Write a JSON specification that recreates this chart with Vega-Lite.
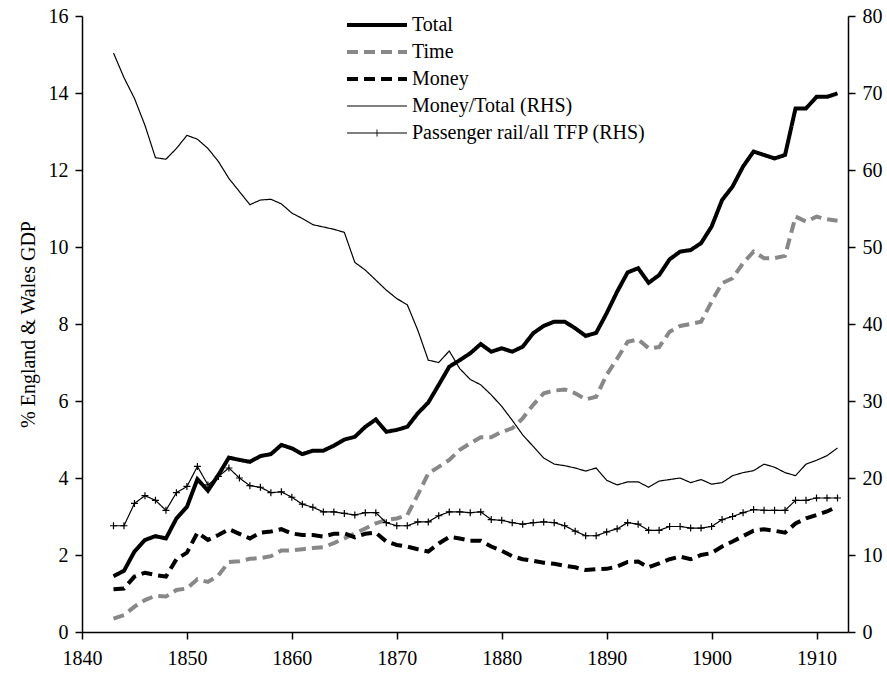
{
  "$schema": "https://vega.github.io/schema/vega-lite/v6.json",
  "width": 766,
  "height": 616,
  "autosize": "none",
  "padding": {"left": 82, "top": 16, "right": 39, "bottom": 43},
  "background": "white",
  "config": {
    "view": {"stroke": null},
    "font": "Liberation Serif",
    "axis": {
      "domainColor": "black", "tickColor": "black", "labelColor": "black", "titleColor": "black",
      "labelFont": "Liberation Serif", "titleFont": "Liberation Serif",
      "labelFontSize": 20, "titleFontSize": 20, "titleFontWeight": "normal",
      "grid": false, "tickSize": 7, "domainWidth": 1.5, "tickWidth": 1.5,
      "labelFlush": false, "labelOverlap": false
    }
  },
  "data": {"values": [
    {"year": 1843, "total": 1.45, "time": 0.35, "money": 1.11, "money_total": 75.2, "rail_tfp": 13.8},
    {"year": 1844, "total": 1.59, "time": 0.44, "money": 1.13, "money_total": 72.0, "rail_tfp": 13.8},
    {"year": 1845, "total": 2.09, "time": 0.66, "money": 1.44, "money_total": 69.3, "rail_tfp": 16.7},
    {"year": 1846, "total": 2.39, "time": 0.83, "money": 1.54, "money_total": 65.8, "rail_tfp": 17.7},
    {"year": 1847, "total": 2.49, "time": 0.94, "money": 1.48, "money_total": 61.6, "rail_tfp": 17.1},
    {"year": 1848, "total": 2.43, "time": 0.92, "money": 1.44, "money_total": 61.4, "rail_tfp": 15.8},
    {"year": 1849, "total": 2.95, "time": 1.09, "money": 1.89, "money_total": 62.8, "rail_tfp": 18.1},
    {"year": 1850, "total": 3.25, "time": 1.13, "money": 2.06, "money_total": 64.5, "rail_tfp": 18.9},
    {"year": 1851, "total": 3.97, "time": 1.37, "money": 2.58, "money_total": 64.0, "rail_tfp": 21.5},
    {"year": 1852, "total": 3.67, "time": 1.30, "money": 2.39, "money_total": 62.8, "rail_tfp": 19.1},
    {"year": 1853, "total": 4.08, "time": 1.47, "money": 2.52, "money_total": 61.1, "rail_tfp": 20.2},
    {"year": 1854, "total": 4.53, "time": 1.82, "money": 2.67, "money_total": 58.9, "rail_tfp": 21.3},
    {"year": 1855, "total": 4.47, "time": 1.84, "money": 2.55, "money_total": 57.2, "rail_tfp": 20.0},
    {"year": 1856, "total": 4.42, "time": 1.90, "money": 2.43, "money_total": 55.5, "rail_tfp": 19.0},
    {"year": 1857, "total": 4.57, "time": 1.92, "money": 2.58, "money_total": 56.1, "rail_tfp": 18.8},
    {"year": 1858, "total": 4.62, "time": 1.97, "money": 2.61, "money_total": 56.2, "rail_tfp": 18.1},
    {"year": 1859, "total": 4.86, "time": 2.12, "money": 2.67, "money_total": 55.6, "rail_tfp": 18.2},
    {"year": 1860, "total": 4.77, "time": 2.12, "money": 2.56, "money_total": 54.4, "rail_tfp": 17.5},
    {"year": 1861, "total": 4.62, "time": 2.15, "money": 2.52, "money_total": 53.7, "rail_tfp": 16.6},
    {"year": 1862, "total": 4.71, "time": 2.18, "money": 2.52, "money_total": 52.9, "rail_tfp": 16.2},
    {"year": 1863, "total": 4.71, "time": 2.20, "money": 2.48, "money_total": 52.6, "rail_tfp": 15.6},
    {"year": 1864, "total": 4.84, "time": 2.31, "money": 2.55, "money_total": 52.3, "rail_tfp": 15.6},
    {"year": 1865, "total": 5.00, "time": 2.43, "money": 2.56, "money_total": 51.9, "rail_tfp": 15.4},
    {"year": 1866, "total": 5.07, "time": 2.56, "money": 2.46, "money_total": 48.0, "rail_tfp": 15.2},
    {"year": 1867, "total": 5.33, "time": 2.69, "money": 2.55, "money_total": 47.0, "rail_tfp": 15.5},
    {"year": 1868, "total": 5.52, "time": 2.82, "money": 2.58, "money_total": 45.7, "rail_tfp": 15.5},
    {"year": 1869, "total": 5.20, "time": 2.91, "money": 2.35, "money_total": 44.4, "rail_tfp": 14.2},
    {"year": 1870, "total": 5.25, "time": 2.95, "money": 2.26, "money_total": 43.3, "rail_tfp": 13.8},
    {"year": 1871, "total": 5.33, "time": 3.04, "money": 2.22, "money_total": 42.5, "rail_tfp": 13.8},
    {"year": 1872, "total": 5.68, "time": 3.56, "money": 2.15, "money_total": 39.2, "rail_tfp": 14.3},
    {"year": 1873, "total": 5.96, "time": 4.12, "money": 2.09, "money_total": 35.3, "rail_tfp": 14.3},
    {"year": 1874, "total": 6.42, "time": 4.29, "money": 2.30, "money_total": 35.0, "rail_tfp": 15.1},
    {"year": 1875, "total": 6.89, "time": 4.47, "money": 2.47, "money_total": 36.5, "rail_tfp": 15.6},
    {"year": 1876, "total": 7.06, "time": 4.73, "money": 2.43, "money_total": 34.2, "rail_tfp": 15.6},
    {"year": 1877, "total": 7.24, "time": 4.90, "money": 2.37, "money_total": 32.8, "rail_tfp": 15.5},
    {"year": 1878, "total": 7.48, "time": 5.06, "money": 2.37, "money_total": 32.1, "rail_tfp": 15.6},
    {"year": 1879, "total": 7.28, "time": 5.06, "money": 2.22, "money_total": 30.8, "rail_tfp": 14.6},
    {"year": 1880, "total": 7.37, "time": 5.20, "money": 2.11, "money_total": 29.3, "rail_tfp": 14.5},
    {"year": 1881, "total": 7.28, "time": 5.29, "money": 1.97, "money_total": 27.5, "rail_tfp": 14.2},
    {"year": 1882, "total": 7.41, "time": 5.55, "money": 1.89, "money_total": 25.6, "rail_tfp": 14.0},
    {"year": 1883, "total": 7.76, "time": 5.90, "money": 1.85, "money_total": 24.1, "rail_tfp": 14.2},
    {"year": 1884, "total": 7.95, "time": 6.20, "money": 1.80, "money_total": 22.6, "rail_tfp": 14.3},
    {"year": 1885, "total": 8.06, "time": 6.27, "money": 1.77, "money_total": 21.8, "rail_tfp": 14.2},
    {"year": 1886, "total": 8.06, "time": 6.30, "money": 1.72, "money_total": 21.6, "rail_tfp": 13.8},
    {"year": 1887, "total": 7.89, "time": 6.20, "money": 1.68, "money_total": 21.3, "rail_tfp": 13.1},
    {"year": 1888, "total": 7.69, "time": 6.04, "money": 1.61, "money_total": 20.9, "rail_tfp": 12.5},
    {"year": 1889, "total": 7.77, "time": 6.11, "money": 1.63, "money_total": 21.3, "rail_tfp": 12.5},
    {"year": 1890, "total": 8.28, "time": 6.68, "money": 1.64, "money_total": 19.7, "rail_tfp": 13.0},
    {"year": 1891, "total": 8.84, "time": 7.10, "money": 1.70, "money_total": 19.1, "rail_tfp": 13.4},
    {"year": 1892, "total": 9.34, "time": 7.54, "money": 1.82, "money_total": 19.5, "rail_tfp": 14.2},
    {"year": 1893, "total": 9.45, "time": 7.60, "money": 1.83, "money_total": 19.5, "rail_tfp": 14.0},
    {"year": 1894, "total": 9.07, "time": 7.37, "money": 1.68, "money_total": 18.8, "rail_tfp": 13.2},
    {"year": 1895, "total": 9.27, "time": 7.40, "money": 1.78, "money_total": 19.6, "rail_tfp": 13.2},
    {"year": 1896, "total": 9.68, "time": 7.80, "money": 1.89, "money_total": 19.8, "rail_tfp": 13.7},
    {"year": 1897, "total": 9.88, "time": 7.95, "money": 1.96, "money_total": 20.0, "rail_tfp": 13.7},
    {"year": 1898, "total": 9.92, "time": 8.00, "money": 1.89, "money_total": 19.4, "rail_tfp": 13.5},
    {"year": 1899, "total": 10.10, "time": 8.06, "money": 2.00, "money_total": 19.8, "rail_tfp": 13.5},
    {"year": 1900, "total": 10.53, "time": 8.58, "money": 2.05, "money_total": 19.2, "rail_tfp": 13.7},
    {"year": 1901, "total": 11.22, "time": 9.06, "money": 2.22, "money_total": 19.4, "rail_tfp": 14.6},
    {"year": 1902, "total": 11.57, "time": 9.19, "money": 2.35, "money_total": 20.3, "rail_tfp": 15.0},
    {"year": 1903, "total": 12.09, "time": 9.58, "money": 2.49, "money_total": 20.7, "rail_tfp": 15.5},
    {"year": 1904, "total": 12.48, "time": 9.88, "money": 2.63, "money_total": 20.95, "rail_tfp": 15.9},
    {"year": 1905, "total": 12.39, "time": 9.71, "money": 2.67, "money_total": 21.8, "rail_tfp": 15.8},
    {"year": 1906, "total": 12.30, "time": 9.71, "money": 2.63, "money_total": 21.4, "rail_tfp": 15.8},
    {"year": 1907, "total": 12.39, "time": 9.77, "money": 2.58, "money_total": 20.7, "rail_tfp": 15.8},
    {"year": 1908, "total": 13.60, "time": 10.79, "money": 2.82, "money_total": 20.3, "rail_tfp": 17.1},
    {"year": 1909, "total": 13.60, "time": 10.66, "money": 2.95, "money_total": 21.8, "rail_tfp": 17.1},
    {"year": 1910, "total": 13.90, "time": 10.79, "money": 3.04, "money_total": 22.3, "rail_tfp": 17.4},
    {"year": 1911, "total": 13.90, "time": 10.72, "money": 3.13, "money_total": 22.9, "rail_tfp": 17.4},
    {"year": 1912, "total": 13.99, "time": 10.68, "money": 3.26, "money_total": 23.9, "rail_tfp": 17.4}
  ]},
  "transform": [
    {"fold": ["total", "time", "money", "money_total", "rail_tfp"], "as": ["series", "value"]}
  ],
  "encoding": {
    "x": {
      "field": "year", "type": "quantitative",
      "scale": {"domain": [1840, 1913], "nice": false, "zero": false},
      "axis": {"values": [1840, 1850, 1860, 1870, 1880, 1890, 1900, 1910], "format": "d", "title": null, "labelPadding": 9}
    }
  },
  "layer": [
    {
      "transform": [{"filter": {"field": "series", "oneOf": ["total", "time", "money"]}}],
      "mark": {"type": "line", "strokeWidth": 4, "strokeCap": "butt", "strokeJoin": "miter"},
      "encoding": {
        "y": {
          "field": "value", "type": "quantitative",
          "scale": {"domain": [0, 16], "nice": false},
          "axis": {"values": [0, 2, 4, 6, 8, 10, 12, 14, 16], "title": "% England & Wales GDP", "titlePadding": 10, "labelPadding": 7}
        },
        "color": {
          "field": "series", "type": "nominal",
          "scale": {"domain": ["total", "time", "money", "money_total", "rail_tfp"], "range": ["#000000", "#888888", "#000000", "#000000", "#000000"]},
          "legend": {
            "orient": "none", "legendX": 285, "legendY": -1, "title": null, "padding": 0,
            "labelFont": "Liberation Serif", "labelFontSize": 20, "labelColor": "black", "labelLimit": 400,
            "symbolSize": 400, "symbolType": "M-3,0H3", "rowPadding": 7, "labelOffset": 25,
            "labelExpr": "datum.value === 'total' ? 'Total' : datum.value === 'time' ? 'Time' : datum.value === 'money' ? 'Money' : datum.value === 'money_total' ? 'Money/Total (RHS)' : 'Passenger rail/all TFP (RHS)'",
            "encode": {"symbols": {"update": {
              "shape": {"signal": "datum.value === 'rail_tfp' ? 'M-3,0H3M0,-0.35V0.35' : 'M-3,0H3'"},
              "strokeWidth": {"signal": "datum.value === 'total' || datum.value === 'time' || datum.value === 'money' ? 4 : 1"},
              "strokeDash": {"signal": "datum.value === 'time' || datum.value === 'money' ? [8, 15] : [1, 0]"},
              "fill": {"value": "transparent"},
              "opacity": {"value": 1}
            }}}
          }
        },
        "strokeDash": {
          "field": "series", "type": "nominal",
          "scale": {"domain": ["total", "time", "money", "money_total", "rail_tfp"], "range": [[1, 0], [11, 6], [11, 6], [1, 0], [1, 0]]},
          "legend": null
        }
      }
    },
    {
      "transform": [{"filter": {"field": "series", "oneOf": ["money_total", "rail_tfp"]}}],
      "encoding": {
        "y": {
          "field": "value", "type": "quantitative",
          "scale": {"domain": [0, 80], "nice": false},
          "axis": {"orient": "right", "values": [0, 10, 20, 30, 40, 50, 60, 70, 80], "title": null, "labelPadding": 7}
        }
      },
      "layer": [
        {
          "mark": {"type": "line", "strokeWidth": 1.2},
          "encoding": {
            "color": {
              "field": "series", "type": "nominal",
              "scale": {"domain": ["total", "time", "money", "money_total", "rail_tfp"], "range": ["#000000", "#888888", "#000000", "#000000", "#000000"]}
            },
            "strokeDash": {
              "field": "series", "type": "nominal",
              "scale": {"domain": ["total", "time", "money", "money_total", "rail_tfp"], "range": [[1, 0], [11, 6], [11, 6], [1, 0], [1, 0]]},
              "legend": null
            }
          }
        },
        {
          "transform": [{"filter": "datum.series === 'rail_tfp'"}],
          "mark": {"type": "point", "shape": "M-1,0H1M0,-1V1", "size": 49, "filled": false, "stroke": "black", "strokeWidth": 1.2, "opacity": 1}
        }
      ]
    }
  ],
  "resolve": {"scale": {"y": "independent"}}
}
